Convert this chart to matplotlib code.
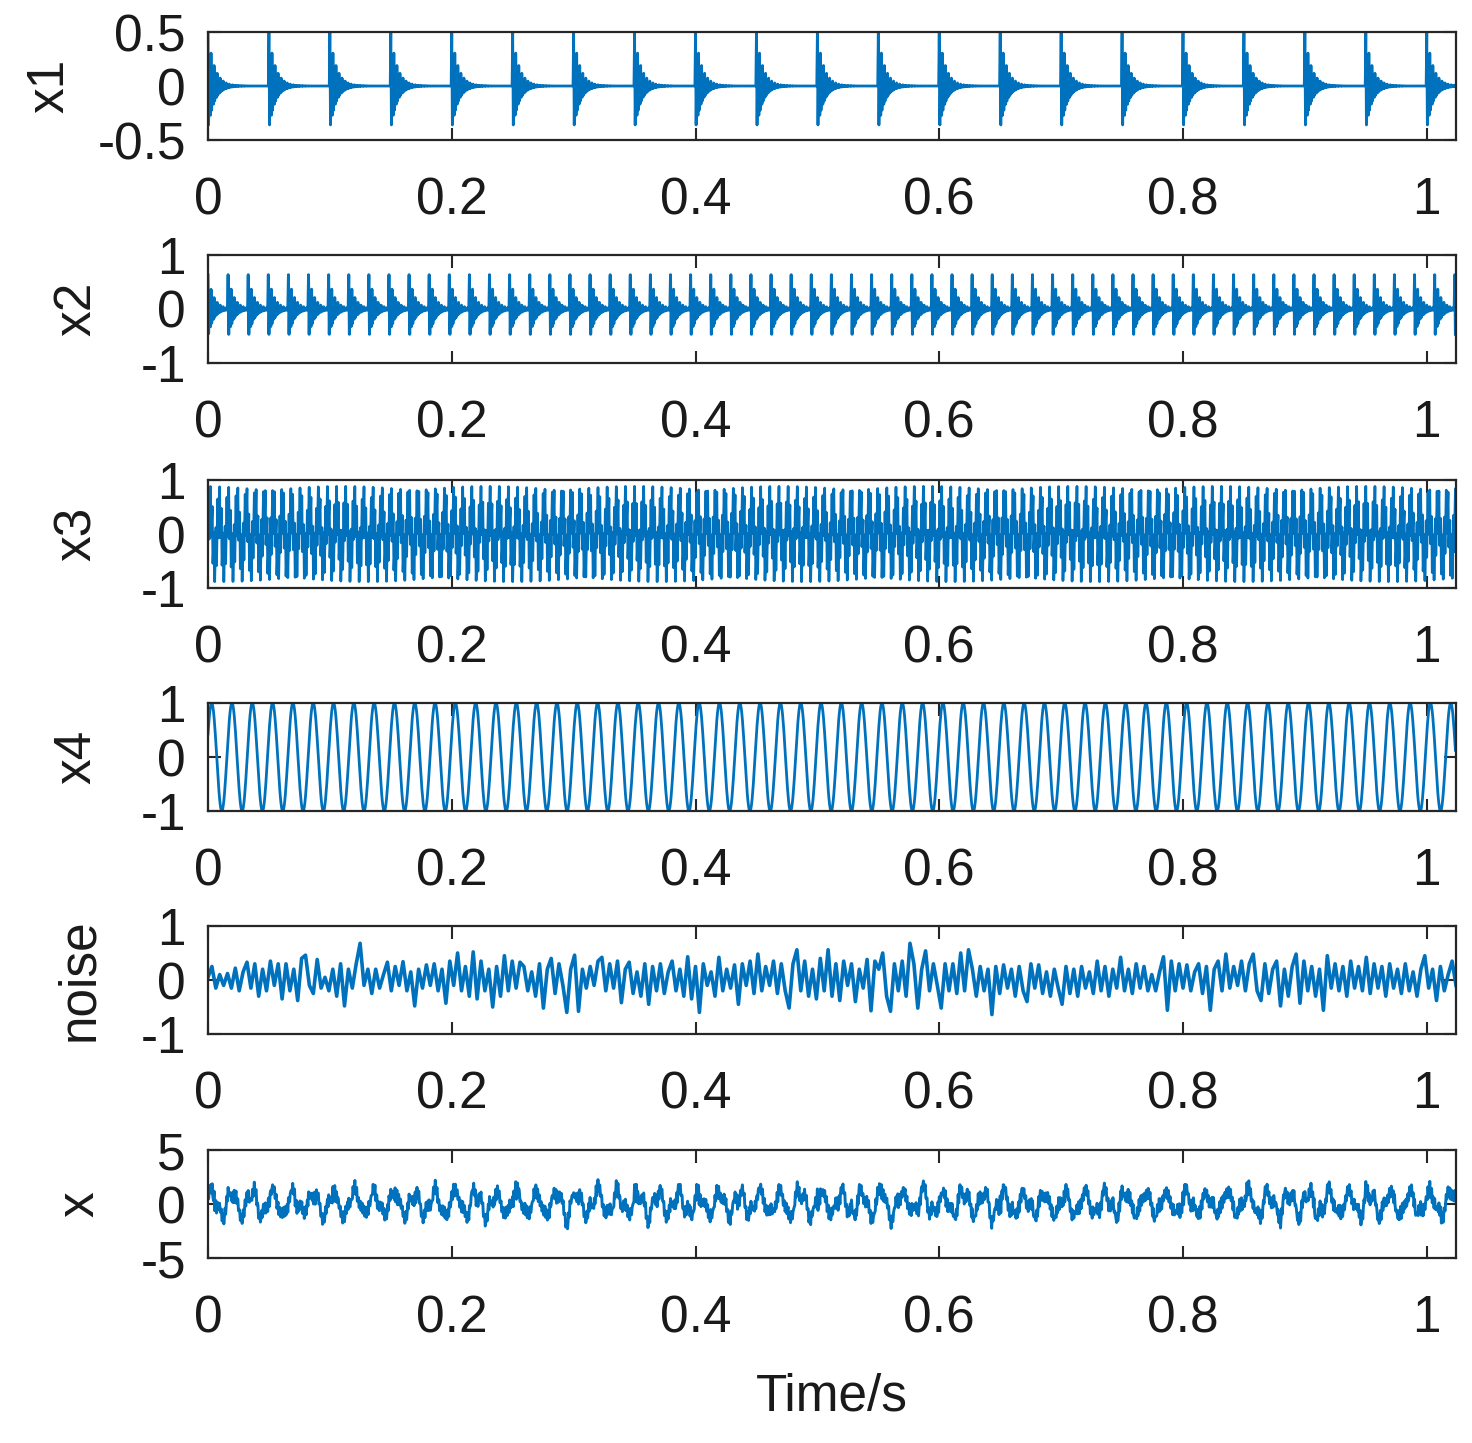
# NOTE ON THE DATA
# x1..x4 are periodic test signals with thousands of samples, which cannot be
# read off the picture one by one. They are therefore built from parameters that
# were read from the picture (impact times/period, ringing decay, frequencies,
# amplitudes, phase). The noise trace is hand-read from the picture at 0.0032 s
# spacing. x is the sum of the components; for that sum only, the hand-read noise
# is linearly resampled onto the 2000 Hz time grid.
import numpy as np
import matplotlib
matplotlib.use("Agg")
import matplotlib.pyplot as plt

# ---------------- data ----------------
fs = 2000.0                 # sampling rate of the component signals (Hz)
n_samples = 2048            # 1.024 s record
x_tick_values = [0, 0.2, 0.4, 0.6, 0.8, 1.0]
x_tick_labels = ["0", "0.2", "0.4", "0.6", "0.8", "1"]
x_limit = [0, 1.024]

panel_names = ["x1", "x2", "x3", "x4", "noise", "x"]
panel_ylims = [(-0.5, 0.5), (-1, 1), (-1, 1), (-1, 1), (-1, 1), (-5, 5)]
panel_yticks = [[-0.5, 0, 0.5], [-1, 0, 1], [-1, 0, 1], [-1, 0, 1], [-1, 0, 1], [-5, 0, 5]]
panel_yticklabels = [["-0.5", "0", "0.5"], ["-1", "0", "1"], ["-1", "0", "1"],
                     ["-1", "0", "1"], ["-1", "0", "1"], ["-5", "0", "5"]]

# x1 : impulse train (one impact every 0.05 s), decaying ringing
x1_impulse_times = [0.00, 0.05, 0.10, 0.15, 0.20, 0.25, 0.30, 0.35, 0.40, 0.45, 0.50,
                    0.55, 0.60, 0.65, 0.70, 0.75, 0.80, 0.85, 0.90, 0.95, 1.00]
x1_amplitude = 0.49
x1_decay = 190.0
x1_ring_hz = 800.0

# x2 : faster impulse train (period ~0.0165 s)
x2_period = 0.0165
x2_amplitude = 0.63
x2_decay = 220.0
x2_ring_hz = 800.0

# x3 : two-tone component
x3_freqs = [135.0, 2000.0 / 3.0]
x3_amps = [0.45, 0.5]

# x4 : 60 Hz sine, first peak at 0.003 s
x4_freq = 60.0
x4_amp = 1.0
x4_peak_time = 0.003

# noise : values read every 0.0032 s
noise_dt = 0.0032
noise_values = [
    0.05, 0.25, -0.15, 0.1, -0.1, 0.12, -0.15, 0.22, -0.2, 0.15,
    0.33, -0.15, 0.3, -0.3, 0.2, -0.2, 0.35, -0.1, 0.3, -0.35,
    0.3, -0.2, 0.2, -0.38, 0.4, 0.46, -0.1, -0.25, 0.38, -0.15,
    0.05, -0.2, 0.2, -0.3, 0.3, -0.48, 0.2, -0.15, 0.3, 0.68,
    -0.1, 0.2, -0.25, 0.2, -0.15, 0.1, 0.33, -0.2, 0.25, -0.1,
    0.34, -0.2, 0.15, -0.48, 0.2, -0.15, 0.28, -0.1, 0.3, -0.2,
    0.2, -0.43, 0.35, -0.1, 0.5, -0.2, 0.25, -0.3, 0.52, -0.35,
    0.35, -0.2, 0.2, -0.5, 0.25, -0.3, 0.45, -0.2, 0.35, -0.15,
    0.33, 0.25, -0.2, 0.15, -0.3, 0.3, -0.52, 0.2, 0.4, -0.25,
    0.3, -0.1, -0.6, 0.2, 0.46, -0.58, 0.2, -0.15, 0.25, -0.1,
    0.35, 0.42, -0.2, 0.3, -0.15, 0.35, -0.42, 0.2, 0.33, -0.25,
    0.15, -0.3, 0.3, -0.45, 0.25, -0.2, 0.3, -0.25, 0.15, 0.35,
    -0.2, 0.2, -0.3, 0.43, -0.35, 0.25, -0.6, 0.3, -0.1, 0.15,
    -0.3, 0.42, -0.2, 0.2, -0.15, 0.28, -0.45, 0.3, -0.1, 0.35,
    -0.25, 0.48, -0.2, 0.25, -0.1, 0.35, -0.25, 0.3, -0.2, -0.52,
    0.3, 0.56, -0.2, 0.35, -0.3, 0.2, -0.35, 0.4, -0.2, 0.56,
    -0.3, 0.3, -0.38, 0.35, -0.1, 0.3, -0.4, 0.2, -0.15, 0.38,
    -0.57, 0.35, 0.2, 0.5, -0.3, -0.58, 0.3, -0.2, 0.35, -0.3,
    0.68, 0.3, -0.52, 0.2, 0.54, -0.2, 0.3, -0.1, -0.52, 0.3,
    -0.2, 0.3, -0.25, 0.5, -0.2, 0.56, 0.2, -0.3, 0.25, -0.2,
    0.2, -0.64, 0.25, -0.25, 0.28, -0.15, 0.2, -0.3, 0.25, -0.2,
    -0.4, 0.3, -0.15, 0.28, -0.25, 0.15, -0.3, 0.2, -0.15, -0.45,
    0.25, -0.25, 0.2, -0.3, 0.25, -0.15, 0.15, -0.25, 0.35, -0.2,
    0.25, -0.3, 0.2, -0.15, 0.42, -0.2, 0.2, -0.25, 0.3, -0.15,
    0.25, -0.2, 0.1, -0.2, 0.15, 0.43, -0.56, 0.35, -0.2, 0.3,
    -0.15, 0.28, -0.2, 0.15, 0.3, -0.25, 0.25, -0.56, 0.2, 0.35,
    -0.2, 0.48, -0.15, 0.25, -0.1, 0.35, -0.2, 0.3, 0.48, -0.2,
    -0.38, 0.3, -0.25, 0.2, 0.35, -0.48, 0.2, -0.3, 0.25, 0.48,
    -0.43, 0.35, -0.2, 0.25, -0.3, 0.2, -0.56, 0.45, -0.15, 0.3,
    -0.2, 0.25, -0.3, 0.35, -0.15, 0.25, -0.2, 0.42, -0.25, 0.3,
    -0.15, 0.25, -0.3, 0.3, -0.15, 0.2, -0.25, 0.3, -0.2, 0.15,
    -0.3, 0.2, 0.45, -0.15, 0.2, -0.38, 0.25, -0.2, 0.1, 0.35,
    -0.1,
]

# ---------------- build the signals ----------------
t = np.arange(n_samples) / fs


def impulse_train(times, amp, decay, ring_hz):
    sig = np.zeros_like(t)
    for t0 in times:
        tau = t - t0
        m = tau >= -1e-9
        tau = np.clip(tau[m], 0, None)
        sig[m] += amp * np.exp(-decay * tau) * np.cos(2 * np.pi * ring_hz * tau)
    return sig


x1 = impulse_train(x1_impulse_times, x1_amplitude, x1_decay, x1_ring_hz)
x2_times = np.arange(0, x_limit[1], x2_period)
x2 = impulse_train(x2_times, x2_amplitude, x2_decay, x2_ring_hz)
x3 = sum(a * np.sin(2 * np.pi * f * t) for f, a in zip(x3_freqs, x3_amps))
x4 = x4_amp * np.cos(2 * np.pi * x4_freq * (t - x4_peak_time))
noise_t = np.arange(len(noise_values)) * noise_dt
noise = np.array(noise_values)
x = x1 + x2 + x3 + x4 + np.interp(t, noise_t, noise)

series_t = [t, t, t, t, noise_t, t]
series_y = [x1, x2, x3, x4, noise, x]
series_lw = [2.0, 2.1, 1.9, 2.0, 2.6, 2.1]

# ---------------- figure ----------------
plt.rcParams['font.family'] = ['Liberation Sans', 'DejaVu Sans']
W, H = 1472, 1443
fig = plt.figure(figsize=(W / 100, H / 100), dpi=100)

left_px, right_px = 208, 1456
panel_top_px = [32, 255, 480, 703, 926, 1150]
panel_h_px = 108
label_x_px = [50, 77, 77, 77, 80, 80]

line_color = "#0072BD"
axis_color = "#262626"
fsize = 37

for i in range(6):
    ax = fig.add_axes([left_px / W, 1 - (panel_top_px[i] + panel_h_px) / H,
                       (right_px - left_px) / W, panel_h_px / H])
    ax.plot(series_t[i], series_y[i], color=line_color, lw=series_lw[i])
    ax.set_xlim(x_limit)
    ax.set_ylim(panel_ylims[i])
    ax.set_xticks(x_tick_values)
    ax.set_xticklabels(x_tick_labels)
    ax.set_yticks(panel_yticks[i])
    ax.set_yticklabels(panel_yticklabels[i])
    ax.tick_params(direction='in', length=9, width=1.5, colors=axis_color,
                   labelsize=fsize, top=True, right=True, labelcolor='#1a1a1a')
    ax.tick_params(axis='x', pad=26)
    ax.tick_params(axis='y', pad=16)
    for s in ax.spines.values():
        s.set_color(axis_color)
        s.set_linewidth(1.6)
    ax.set_ylabel(panel_names[i], fontsize=fsize, color='#1a1a1a')
    ax.yaxis.label.set_verticalalignment('center')
    ax.yaxis.set_label_coords((label_x_px[i] - left_px) / (right_px - left_px), 0.5)
    if i == 5:
        ax.set_xlabel("Time/s", fontsize=fsize, color='#1a1a1a', labelpad=21)

fig.savefig("out.png", dpi=100)
